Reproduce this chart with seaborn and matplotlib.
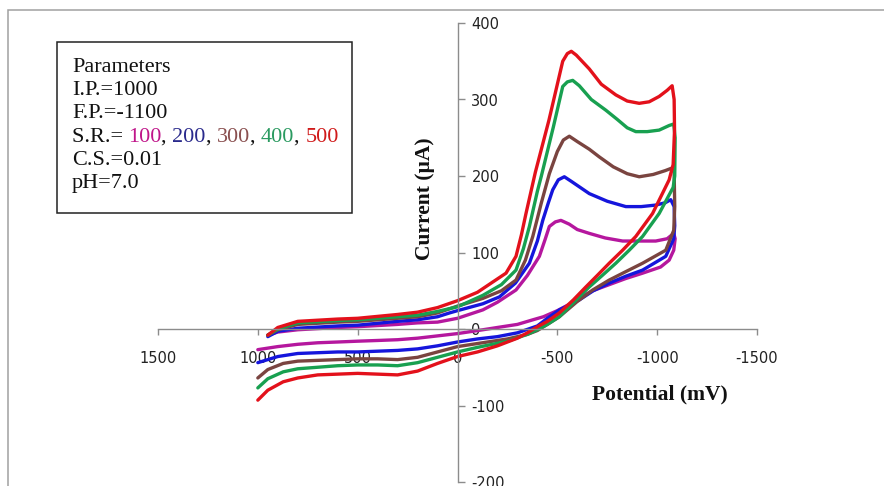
import numpy as np
import pandas as pd
import matplotlib
matplotlib.use("Agg")
import matplotlib.pyplot as plt
import matplotlib.patches as mpatches
import seaborn as sns

# ---------------- data (potential mV, current uA), loop order ----------------
rates = ["100", "200", "300", "400", "500"]

E_100 = [950, 900, 800, 600, 500, 300, 200, 100, 0, -127, -200, -293, -350, -410, -440, -460, -490, -518, -560, -600, -660, -740, -827, -900, -993, -1050, -1083,
         -1090, -1083, -1060, -1017, -927, -843, -760, -677, -620, -580, -500, -430, -377, -300, -200, -127, 0, 100, 200, 300, 400, 507, 600, 700, 800, 900, 1000]
I_100 = [-8, -4, -1, 2, 3, 6, 8, 9, 14, 25, 35, 51, 70, 95, 118, 134, 140, 142, 137, 130, 125, 119, 115, 115, 115, 118, 125,
         118, 103, 90, 81, 73, 66, 58, 50, 42, 35, 24, 16, 12, 6, 2, -1, -6, -9, -12, -14, -15, -16, -17, -18, -20, -23, -27]

E_200 = [950, 900, 800, 600, 500, 300, 200, 100, 40, 0, -127, -210, -290, -360, -400, -427, -455, -477, -505, -535, -570, -660, -750, -843, -920, -993, -1040, -1068,
         -1085, -1088, -1083, -1043, -927, -843, -760, -680, -610, -510, -450, -400, -300, -200, -100, 0, 100, 200, 300, 400, 500, 600, 700, 800, 900, 1000]
I_200 = [-10, -3, 1, 4, 5, 10, 12, 16, 21, 24, 33, 42, 60, 86, 115, 142, 165, 182, 195, 199, 193, 177, 167, 160, 160, 162, 165, 169,
         160, 135, 118, 95, 77, 69, 60, 50, 38, 25, 14, 4, -5, -10, -13, -17, -22, -26, -28, -29, -30, -30, -31, -32, -36, -44]

E_300 = [950, 900, 800, 600, 500, 300, 200, 100, 0, -127, -220, -293, -340, -377, -420, -460, -500, -530, -560, -600, -660, -710, -780, -850, -910, -980, -1040, -1070,
         -1085, -1088, -1083, -1043, -927, -843, -760, -677, -600, -510, -450, -400, -350, -250, -100, 0, 100, 200, 300, 400, 500, 600, 700, 800, 873, 950, 1000]
I_300 = [-8, -1, 6, 9, 10, 14, 16, 21, 30, 40, 50, 64, 90, 121, 165, 203, 232, 247, 252, 245, 235, 225, 212, 203, 199, 202, 207, 210,
         205, 160, 129, 103, 86, 75, 64, 51, 36, 16, 6, -2, -7, -13, -19, -23, -30, -37, -40, -39, -39, -40, -41, -42, -45, -53, -64]

E_400 = [950, 900, 800, 600, 500, 300, 200, 100, 0, -127, -220, -293, -330, -360, -400, -420, -480, -527, -550, -577, -610, -670, -743, -800, -850, -893, -950, -1010, -1060, -1083,
         -1090, -1088, -1080, -1010, -927, -860, -793, -725, -660, -590, -510, -450, -400, -350, -250, -100, 0, 100, 200, 300, 400, 500, 600, 700, 800, 873, 950, 1000]
I_400 = [-8, 0, 8, 11, 12, 16, 18, 23, 29, 44, 58, 77, 105, 134, 180, 200, 264, 317, 323, 325, 318, 300, 286, 274, 263, 258, 258, 260, 266, 268,
         250, 200, 185, 151, 121, 103, 86, 70, 55, 37, 16, 6, -1, -7, -16, -24, -30, -37, -44, -48, -47, -47, -48, -50, -52, -56, -65, -77]

E_500 = [950, 900, 800, 600, 500, 300, 200, 100, 0, -100, -180, -243, -293, -320, -343, -390, -458, -527, -550, -570, -595, -660, -720, -793, -850, -910, -960, -1010, -1050, -1075,
         -1085, -1087, -1080, -1060, -977, -893, -827, -760, -700, -643, -580, -510, -450, -400, -350, -300, -200, -100, 0, 100, 200, 300, 400, 500, 600, 700, 800, 873, 950, 1000]
I_500 = [-8, 2, 10, 13, 14, 19, 22, 28, 37, 48, 62, 73, 95, 123, 151, 205, 273, 350, 360, 363, 358, 340, 320, 306, 298, 295, 297, 304, 312, 318,
         300, 260, 215, 195, 151, 121, 103, 86, 70, 55, 38, 21, 10, 3, -5, -12, -22, -30, -36, -45, -55, -60, -59, -58, -59, -60, -64, -69, -80, -93]

x_ticks = [1500, 1000, 500, 0, -500, -1000, -1500]
y_ticks = [-200, -100, 0, 100, 200, 300, 400]

line_colors = {"100": "#b5179e", "200": "#1515dc", "300": "#7a4440", "400": "#18a050", "500": "#e3111b"}
text_colors = {"100": "#c0168a", "200": "#2a2a8c", "300": "#8a5050", "400": "#2a9a60", "500": "#d01a1a"}

frames = []
for r, E, I in [("100", E_100, I_100), ("200", E_200, I_200), ("300", E_300, I_300),
                ("400", E_400, I_400), ("500", E_500, I_500)]:
    frames.append(pd.DataFrame({"E": E, "I": I, "rate": r}))
df = pd.concat(frames, ignore_index=True)

# ---------------- figure ----------------
sns.set_theme(style="white")
plt.rcParams["font.family"] = ["DejaVu Sans"]
W, H = 884, 486
fig = plt.figure(figsize=(W / 100, H / 100), dpi=100)
fig.patch.set_facecolor("white")

def fx(x):
    return x / W

def fy(y):
    return 1 - y / H

# outer gray frame (extends beyond right/bottom)
fig.patches.append(mpatches.Rectangle((fx(8), fy(500)), fx(900) - fx(8), fy(10) - fy(500),
                                      transform=fig.transFigure, fill=False,
                                      edgecolor="#a0a0a0", linewidth=1.1, clip_on=False))

ax = fig.add_axes([fx(158), fy(482), fx(757) - fx(158), fy(23) - fy(482)])
ax.set_facecolor("none")

sns.lineplot(data=df, x="E", y="I", hue="rate", hue_order=rates, palette=line_colors,
             sort=False, estimator=None, legend=False, linewidth=2.4, ax=ax)
for ln in ax.get_lines():
    ln.set_solid_joinstyle("round")
    ln.set_solid_capstyle("round")

ax.set_xlim(1500, -1500)
ax.set_ylim(-200, 400)
ax.set_xticks(x_ticks)
ax.set_yticks(y_ticks)
ax.set_xticklabels([str(v) for v in x_ticks])
ax.set_yticklabels([str(v) for v in y_ticks])

for s in ["top", "left"]:
    ax.spines[s].set_visible(False)
ax.spines["bottom"].set_position(("data", 0))
ax.spines["right"].set_position(("data", 0))
for s in ["bottom", "right"]:
    ax.spines[s].set_color("#8c8c8c")
    ax.spines[s].set_linewidth(1.0)

ax.xaxis.set_ticks_position("bottom")
ax.yaxis.set_ticks_position("right")
ax.tick_params(axis="x", direction="out", length=4, width=1, color="#8c8c8c",
               pad=12, labelsize=10.5, labelcolor="#222222")
ax.tick_params(axis="y", direction="out", length=5, width=1, color="#8c8c8c",
               pad=5, labelsize=10.5, labelcolor="#222222")
ax.grid(False)

ax.set_xlabel("Potential (mV)", fontsize=15.5, fontweight="bold",
              family=["Liberation Serif"], color="#111111")
ax.xaxis.set_label_coords(0.838, 0.1917)
ax.xaxis.label.set_va("center")

ax.yaxis.set_label_position("left")
ax.set_ylabel("Current (\u00b5A)", fontsize=15.5, fontweight="bold",
              family=["Liberation Serif"], color="#111111")
ax.yaxis.set_label_coords(0.4457, 0.6176)
ax.yaxis.label.set_va("center")

# ---------------- parameter box ----------------
fig.patches.append(mpatches.Rectangle((fx(57), fy(213)), fx(352) - fx(57), fy(42) - fy(213),
                                      transform=fig.transFigure, fill=True, facecolor="white",
                                      edgecolor="#222222", linewidth=1.1))
serif = ["Liberation Serif"]
fs = 16
x0 = 72
lines = ["Parameters", "I.P.=1000", "F.P.=-1100", None, "C.S.=0.01", "pH=7.0"]
baselines = [71.7, 95, 118.3, 141.7, 165, 188.3]
for txt, b in zip(lines, baselines):
    if txt is not None:
        fig.text(fx(x0), fy(b), txt, family=serif, fontsize=fs, va="baseline", ha="left", color="#111111")

fig.canvas.draw()
renderer = fig.canvas.get_renderer()
pieces = [("S.R.=\u2009", "#111111")]
for i, r in enumerate(rates):
    pieces.append((r, text_colors[r]))
    if i < len(rates) - 1:
        pieces.append((", ", "#111111"))
xc = fx(x0)
for txt, col in pieces:
    t = fig.text(xc, fy(141.7), txt, family=serif, fontsize=fs, va="baseline", ha="left", color=col)
    bb = t.get_window_extent(renderer=renderer)
    xc += bb.width / W

fig.savefig("out.png", dpi=100, facecolor="white")
